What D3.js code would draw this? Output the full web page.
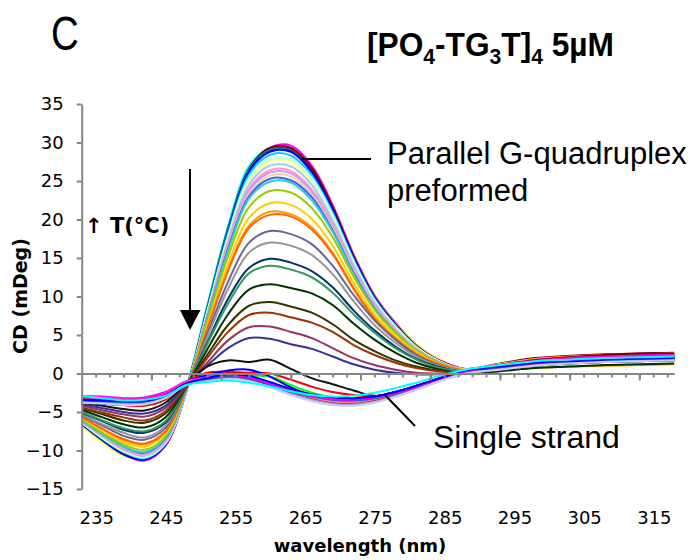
<!DOCTYPE html>
<html><head><meta charset="utf-8">
<script src="https://cdn.jsdelivr.net/npm/d3@7"></script>
<style>body{margin:0;background:#fff} svg{display:block}</style>
</head><body>
<svg id="chart" width="699" height="560"></svg>
<script>
// ---------- DATA ----------
const wavelength = [235,238,241,244,247,250,253,256,259,262,265,268,271,274,277,280,283,286,290,295,300,305,310,315,320];
const yTickValues = [-15,-10,-5,0,5,10,15,20,25,30,35];
const xTickLabels = [235,245,255,265,275,285,295,305,315];
const xMinorTicks = d3.range(237, 320, 2);

// quadruplex spectra (low T -> high T)
const q01 = [-6.3,-8.4,-10.2,-11.0,-9.2,-2.2,8.4,18.8,26.6,29.3,29.1,26.2,21.3,15.1,9.8,6.2,3.5,1.7,0.4,0.8,1.4,1.7,1.9,2.1,2.2];
const q02 = [-6.6,-8.7,-10.5,-11.3,-9.4,-2.4,8.1,18.4,26.4,29.3,29.6,27.0,21.9,15.5,10.2,6.6,3.7,1.9,0.6,1.2,1.9,2.2,2.3,2.5,2.6];
const q03 = [-6.8,-8.9,-10.7,-11.1,-9.1,-2.2,8.0,18.2,26.2,28.9,29.0,26.6,21.7,15.4,10.1,6.5,3.8,1.9,0.5,1.1,1.8,2.0,2.4,2.5,2.5];
const q04 = [-6.2,-8.3,-10.1,-10.9,-9.0,-1.9,8.8,19.1,26.9,29.3,29.0,26.3,21.2,15.0,9.9,6.3,3.5,1.7,0.4,0.9,1.5,1.8,2.0,2.2,2.3];
const q05 = [-6.5,-8.6,-10.4,-11.2,-9.3,-2.3,8.2,18.5,26.3,29.0,29.0,26.4,21.5,15.2,9.9,6.4,3.6,1.8,0.5,1.0,1.6,1.8,2.1,2.2,2.3];
const q06 = [-6.4,-8.5,-10.3,-11.1,-9.2,-2.2,8.3,18.7,26.6,29.3,29.3,26.7,21.7,15.3,10.0,6.4,3.6,1.8,0.6,1.3,2.0,2.3,2.5,2.6,2.7];
const q07 = [-6.3,-8.4,-10.3,-11.0,-9.1,-2.0,8.6,18.9,26.5,29.0,28.9,26.1,21.1,14.9,9.7,6.2,3.4,1.7,0.4,0.9,1.5,1.8,2.0,2.1,2.2];
const q08 = [-6.6,-8.7,-10.5,-11.2,-9.2,-2.3,8.1,18.3,26.2,28.8,28.8,26.2,21.3,15.1,9.9,6.3,3.5,1.7,0.3,0.7,1.2,1.5,1.7,1.9,2.0];
const q09 = [-6.4,-8.5,-10.2,-11.0,-9.1,-2.3,8.1,18.1,25.8,28.4,28.3,25.7,20.9,14.8,9.7,6.2,3.5,1.7,0.5,1.0,1.6,1.9,2.1,2.3,2.4];
const q10 = [-6.4,-8.4,-10.1,-10.9,-9.1,-2.3,7.9,17.8,25.4,28.0,27.9,25.4,20.6,14.6,9.5,6.1,3.4,1.7,0.4,0.9,1.4,1.7,1.9,2.0,2.1];
const q11 = [-6.4,-8.4,-10.1,-10.8,-9.0,-2.3,7.9,17.7,25.2,27.7,27.7,25.1,20.4,14.4,9.4,6.0,3.4,1.7,0.5,1.1,1.7,2.0,2.2,2.4,2.5];
const q12 = [-6.3,-8.3,-10.0,-10.8,-8.9,-2.2,7.8,17.5,24.9,27.4,27.3,24.8,20.2,14.3,9.3,5.9,3.3,1.7,0.3,0.8,1.3,1.6,1.8,1.9,2.0];
const q13 = [-6.3,-8.2,-9.9,-10.7,-8.9,-2.2,7.6,17.2,24.5,27.0,26.9,24.5,19.9,14.1,9.2,5.8,3.3,1.6,0.4,1.0,1.5,1.8,2.1,2.2,2.3];
const q14 = [-6.2,-8.1,-9.8,-10.5,-8.7,-2.2,7.5,16.9,24.0,26.4,26.3,23.9,19.5,13.7,8.9,5.7,3.2,1.6,0.6,1.2,1.8,2.1,2.3,2.5,2.6];
const q15 = [-6.2,-8.1,-9.7,-10.4,-8.7,-2.2,7.4,16.6,23.7,26.1,26.0,23.6,19.2,13.6,8.8,5.6,3.1,1.6,0.4,0.9,1.4,1.6,1.8,2.0,2.1];
const q16 = [-6.1,-8.0,-9.6,-10.3,-8.6,-2.2,7.2,16.4,23.3,25.7,25.6,23.2,18.9,13.3,8.6,5.5,3.1,1.5,0.5,1.1,1.6,1.9,2.1,2.2,2.3];
const q17 = [-6.1,-7.9,-9.5,-10.3,-8.5,-2.2,7.1,16.2,23.0,25.3,25.1,22.9,18.6,13.1,8.5,5.4,3.0,1.5,0.3,0.7,1.1,1.4,1.6,1.7,1.8];
const q18 = [-6.1,-7.9,-9.5,-10.2,-8.4,-2.2,7.0,15.9,22.7,24.9,24.8,22.5,18.4,12.9,8.4,5.3,3.0,1.5,0.4,0.9,1.4,1.7,1.9,2.1,2.2];
const q19 = [-5.9,-7.7,-9.2,-9.9,-8.2,-2.1,6.7,15.2,21.6,23.7,23.5,21.5,17.7,12.6,8.3,5.3,3.0,1.5,0.3,0.8,1.3,1.5,1.7,1.8,1.9];
const q20 = [-5.8,-7.4,-8.9,-9.5,-7.8,-2.1,6.2,14.2,20.2,22.1,21.9,20.1,16.6,11.8,7.7,4.9,2.8,1.4,0.5,1.2,1.9,2.2,2.4,2.5,2.6];
const q21 = [-5.7,-7.2,-8.6,-9.2,-7.6,-2.0,5.9,13.5,19.2,21.0,20.7,19.0,15.7,11.2,7.3,4.6,2.6,1.3,0.1,0.4,0.7,0.9,1.0,1.1,1.2];
const q22 = [-5.6,-7.2,-8.5,-9.1,-7.5,-2.0,5.7,13.3,18.9,20.6,20.4,18.7,15.5,11.0,7.1,4.5,2.5,1.3,0.4,0.9,1.5,1.7,1.9,2.1,2.2];
const q23 = [-5.4,-6.8,-8.1,-8.6,-7.1,-2.0,5.1,11.9,17.0,18.5,18.1,16.8,14.0,10.2,6.9,4.4,2.4,1.1,0.3,0.8,1.3,1.6,1.8,2.0,2.1];
const q24 = [-5.3,-6.6,-7.7,-8.3,-6.8,-1.9,4.7,11.0,15.7,17.0,16.6,15.4,12.9,9.4,6.3,4.0,2.2,1.0,0.4,1.0,1.5,1.8,2.0,2.1,2.2];
const q25 = [-5.1,-6.2,-7.3,-7.7,-6.4,-1.8,4.0,9.7,13.7,14.9,14.4,13.3,11.2,8.2,5.6,3.5,1.9,0.9,0.2,0.6,1.1,1.4,1.6,1.7,1.8];
const q26 = [-5.0,-6.1,-7.1,-7.5,-6.2,-1.8,3.8,9.1,13.0,14.0,13.5,12.5,10.5,7.7,5.3,3.3,1.8,0.8,0.3,0.9,1.4,1.7,1.9,2.0,2.1];
const q27 = [-4.7,-5.7,-6.6,-7.0,-5.7,-1.7,3.1,7.7,10.9,11.6,11.1,10.4,8.9,6.5,4.4,2.7,1.4,0.6,0.0,0.3,0.7,0.9,1.1,1.2,1.3];
const q28 = [-4.5,-5.3,-6.1,-6.4,-5.2,-1.7,2.4,6.3,8.8,9.3,8.7,7.9,6.4,4.4,2.9,1.7,0.9,0.4,0.1,0.7,1.2,1.5,1.7,1.8,1.9];
const q29 = [-4.4,-5.1,-5.7,-6.1,-4.9,-1.6,2.0,5.4,7.6,7.9,7.3,6.6,5.4,3.7,2.4,1.4,0.7,0.3,0.1,0.8,1.4,1.7,1.9,2.1,2.2];
const q30 = [-4.2,-4.8,-5.3,-5.6,-4.5,-1.6,1.4,4.3,6.0,6.1,5.4,4.6,3.3,2.0,1.1,0.5,0.1,0.0,0.0,0.6,1.1,1.4,1.6,1.8,1.9];
const q31 = [-4.0,-4.5,-5.0,-5.2,-4.2,-1.5,1.0,3.3,4.6,4.5,3.8,3.2,2.2,1.2,0.5,0.1,-0.1,-0.1,0.1,0.7,1.2,1.5,1.7,1.9,2.0];
const q32 = [-3.8,-4.2,-4.6,-4.8,-3.8,-1.3,0.9,1.7,1.5,1.8,0.6,-0.6,-1.4,-2.2,-2.9,-2.6,-1.9,-1.0,0.1,0.6,1.0,1.3,1.5,1.6,1.7];
// single-strand spectra (high T)
const s01 = [-3.3,-3.7,-4.1,-4.2,-3.4,-1.1,0.1,0.2,0.1,0.0,-0.8,-1.7,-2.4,-2.8,-3.0,-2.7,-2.0,-1.0,0.2,0.9,1.5,1.8,2.0,2.1,2.2];
const s02 = [-3.5,-3.8,-4.0,-4.0,-3.2,-1.2,-0.4,-0.2,-0.3,-0.4,-1.5,-2.5,-3.1,-3.4,-3.3,-2.7,-1.9,-0.9,0.1,0.7,1.2,1.5,1.7,1.8,1.9];
const s03 = [-3.6,-3.9,-4.1,-3.9,-3.0,-1.1,-0.2,0.4,0.5,-0.4,-1.8,-2.8,-3.3,-3.5,-3.3,-2.7,-1.8,-0.8,0.3,1.0,1.6,1.9,2.1,2.2,2.3];
const s04 = [-3.2,-3.3,-3.5,-3.4,-2.7,-1.2,-0.6,-0.3,-0.6,-1.5,-2.6,-3.4,-3.9,-4.1,-3.7,-2.9,-2.0,-1.0,0.2,0.9,1.6,2.0,2.2,2.4,2.5];
const s05 = [-2.9,-3.0,-3.2,-3.1,-2.4,-1.0,-0.5,-0.1,-0.4,-1.2,-2.1,-2.9,-3.4,-3.6,-3.4,-2.8,-1.9,-0.9,0.3,1.1,1.8,2.1,2.3,2.4,2.5];
const s06 = [-3.5,-3.6,-3.7,-3.6,-2.9,-1.4,-0.9,-0.5,-0.8,-1.6,-2.4,-3.1,-3.3,-3.4,-3.0,-2.4,-1.6,-0.7,0.4,1.1,1.7,2.1,2.4,2.6,2.6];
const s07 = [-3.7,-3.8,-3.9,-3.7,-2.9,-1.4,-0.9,-0.6,-0.9,-1.5,-2.2,-2.8,-3.2,-3.3,-3.1,-2.5,-1.7,-0.8,0.2,0.6,1.0,1.3,1.5,1.6,1.7];
const s08 = [-3.3,-3.4,-3.6,-3.5,-2.8,-1.3,-0.7,-0.3,-0.5,-1.3,-2.2,-2.9,-3.3,-3.5,-3.2,-2.6,-1.7,-0.8,0.3,0.9,1.4,1.7,1.9,2.0,2.1];
const s09 = [-3.6,-3.7,-3.8,-3.6,-2.9,-1.4,-0.9,-0.6,-0.9,-1.6,-2.5,-3.2,-3.6,-3.7,-3.3,-2.7,-1.9,-1.0,0.1,0.7,1.2,1.5,1.7,1.8,1.9];
const s10 = [-3.2,-3.3,-3.5,-3.4,-2.7,-1.2,-0.7,-0.3,-0.6,-1.4,-2.3,-3.0,-3.4,-3.5,-3.2,-2.6,-1.8,-0.9,0.2,0.8,1.4,1.7,2.0,2.1,2.2];
const s11 = [-3.4,-3.5,-3.6,-3.5,-2.8,-1.3,-0.8,-0.4,-0.7,-1.4,-2.2,-2.9,-3.3,-3.4,-3.1,-2.5,-1.7,-0.8,0.3,0.8,1.3,1.6,1.8,1.9,2.0];
const s12 = [-3.5,-3.6,-3.8,-3.7,-3.0,-1.4,-0.8,-0.5,-0.8,-1.6,-2.6,-3.4,-3.9,-4.0,-3.6,-2.9,-2.0,-1.0,0.1,0.7,1.2,1.5,1.7,1.8,1.9];
const s13 = [-3.3,-3.5,-3.7,-3.6,-2.9,-1.3,-0.8,-0.4,-0.7,-1.5,-2.4,-3.1,-3.6,-3.7,-3.4,-2.7,-1.9,-0.9,0.2,0.8,1.3,1.6,1.8,1.9,2.0];
const s14 = [-3.6,-3.8,-3.9,-3.8,-3.0,-1.4,-0.9,-0.5,-0.8,-1.7,-2.7,-3.5,-4.0,-4.1,-3.7,-3.0,-2.1,-1.1,0.0,0.6,1.1,1.4,1.6,1.7,1.8];
const s15 = [-3.4,-3.5,-3.6,-3.5,-2.8,-1.3,-0.8,-0.4,-0.7,-1.5,-2.4,-3.2,-3.7,-3.8,-3.4,-2.7,-1.8,-0.9,0.2,0.8,1.3,1.7,1.9,2.0,2.1];
const s16 = [-3.2,-3.3,-3.4,-3.3,-2.6,-1.2,-0.6,-0.2,-0.5,-1.2,-2.1,-2.8,-3.2,-3.3,-3.0,-2.4,-1.6,-0.7,0.4,1.0,1.6,1.9,2.1,2.2,2.3];
const s17 = [-3.1,-3.2,-3.4,-3.3,-2.6,-1.1,-0.6,-0.2,-0.5,-1.3,-2.3,-3.1,-3.6,-3.7,-3.3,-2.6,-1.7,-0.8,0.3,1.0,1.5,1.8,2.1,2.2,2.3];
const s18 = [-3.5,-3.6,-3.7,-3.6,-2.9,-1.3,-0.7,-0.3,-0.6,-1.4,-2.3,-3.0,-3.4,-3.5,-3.2,-2.6,-1.7,-0.8,0.3,0.9,1.4,1.7,1.9,2.0,2.1];
const s19 = [-3.8,-3.9,-4.1,-4.0,-3.2,-1.5,-1.0,-0.7,-1.0,-1.8,-2.8,-3.6,-4.1,-4.2,-3.8,-3.0,-2.1,-1.1,0.0,0.5,1.0,1.3,1.5,1.6,1.7];
const s20 = [-3.0,-3.2,-3.4,-3.3,-2.6,-1.2,-0.6,-0.2,-0.5,-1.3,-2.2,-2.9,-3.3,-3.4,-3.1,-2.5,-1.7,-0.8,0.3,1.0,1.6,2.0,2.2,2.3,2.4];
const s21 = [-3.4,-3.5,-3.6,-3.6,-2.9,-1.3,-0.6,-0.1,-0.3,-1.1,-2.0,-2.7,-3.1,-3.2,-3.0,-2.4,-1.6,-0.7,0.4,0.9,1.4,1.6,1.8,1.9,2.0];
const s22 = [-2.9,-3.2,-3.5,-3.4,-2.9,-1.5,-1.1,-0.9,-1.2,-1.7,-2.3,-2.8,-3.0,-2.9,-2.5,-1.9,-1.2,-0.4,0.5,1.1,1.6,1.8,2.0,2.1,2.2];

const cdSeries = [q01,q02,q03,q04,q05,q06,q07,q08,q09,q10,q11,q12,q13,q14,q15,q16,
  q17,q18,q19,q20,q21,q22,q23,q24,q25,q26,q27,q28,q29,q30,q31,q32,
  s01,s02,s03,s04,s05,s06,s07,s08,s09,s10,s11,s12,s13,s14,s15,s16,s17,s18,s19,s20,s21,s22];
const seriesColors = ["#000080","#FF00FF","#FFFF00","#00FFFF","#800080","#800000","#008080","#0000FF",
  "#00CCFF","#CCFFFF","#CCFFCC","#FFFF99","#99CCFF","#FF99CC","#CC99FF","#FFCC99",
  "#3366FF","#33CCCC","#99CC00","#FFCC00","#FF9900","#FF6600","#666699","#969696",
  "#003366","#339966","#003300","#333300","#993300","#993366","#333399","#111111",
  "#FF0000","#00FF00","#0000FF","#FFFF00","#FF00FF","#800000","#008000","#000080",
  "#808000","#800080","#008080","#C0C0C0","#808080","#9999FF","#993366","#660066",
  "#FF8080","#0066CC","#CCCCFF","#FF00FF","#0000FF","#00FFFF"];

// ---------- CHART ----------
const svg = d3.select('#chart');
const x = d3.scaleLinear().domain([235, 320]).range([81.7, 674.2]);
const y = d3.scaleLinear().domain([-15, 35]).range([489, 104]);
const axisColor = '#868686';

// curves
const line = d3.line()
  .x((d, i) => x(wavelength[i]))
  .y(d => y(d))
  .curve(d3.curveCatmullRom.alpha(0.5));
svg.append('g').selectAll('path').data(cdSeries).join('path')
  .attr('d', d => line(d))
  .attr('fill', 'none')
  .attr('stroke', (d, i) => seriesColors[i])
  .attr('stroke-width', 2)
  .attr('stroke-linejoin', 'round');

// y axis
const yAxis = svg.append('g').attr('transform', `translate(${x(235)},0)`)
  .call(d3.axisLeft(y).tickValues(yTickValues).tickSize(5).tickSizeOuter(0).tickPadding(13));
yAxis.select('.domain').attr('stroke', axisColor).attr('stroke-width', 2);
yAxis.selectAll('.tick line').attr('stroke', axisColor).attr('stroke-width', 2);
yAxis.selectAll('.tick text').attr('font-family', 'DejaVu Sans, Verdana, sans-serif')
  .attr('font-size', 18).attr('fill', '#000');

// x axis at zero (minor and major ticks)
const xAxisMinor = svg.append('g').attr('transform', `translate(0,${y(0)})`)
  .call(d3.axisBottom(x).tickValues(xMinorTicks).tickSize(4).tickSizeOuter(0).tickFormat(''));
xAxisMinor.select('.domain').attr('stroke', axisColor).attr('stroke-width', 2);
xAxisMinor.selectAll('.tick line').attr('stroke', axisColor).attr('stroke-width', 2);
const xAxisMajor = svg.append('g').attr('transform', `translate(0,${y(0)})`)
  .call(d3.axisBottom(x).tickValues(xTickLabels.slice(1)).tickSize(7).tickFormat(''));
xAxisMajor.select('.domain').remove();
xAxisMajor.selectAll('.tick line').attr('stroke', axisColor).attr('stroke-width', 2);

// x tick labels (low position, category-style offset)
const xLab = svg.append('g').attr('transform', 'translate(14.5,508)')
  .call(d3.axisBottom(x).tickValues(xTickLabels).tickSize(0).tickPadding(3));
xLab.select('.domain').remove();
xLab.selectAll('.tick text').attr('font-family', 'DejaVu Sans, Verdana, sans-serif')
  .attr('font-size', 18).attr('fill', '#000');

// axis titles
svg.append('text').attr('x', 360).attr('y', 552).attr('text-anchor', 'middle')
  .attr('font-family', 'DejaVu Sans, Verdana, sans-serif').attr('font-weight', 'bold')
  .attr('font-size', 18).text('wavelength (nm)');
svg.append('text').attr('transform', 'translate(27,296) rotate(-90)').attr('text-anchor', 'middle')
  .attr('font-family', 'DejaVu Sans, Verdana, sans-serif').attr('font-weight', 'bold')
  .attr('font-size', 19).text('CD (mDeg)');

// panel letter
svg.append('text').attr('transform', 'translate(51,50) scale(0.8,1)')
  .attr('font-family', 'Liberation Sans, Arial, sans-serif').attr('font-size', 48).text('C');

// title with subscripts
const title = svg.append('text').attr('transform', 'translate(367,56) scale(0.96,1)')
  .attr('font-family', 'Liberation Sans, Arial, sans-serif').attr('font-weight', 'bold')
  .attr('font-size', 33);
const titleParts = [['[PO',0],['4',1],['-TG',0],['3',1],['T]',0],['4',1],[' 5µM',0]];
let prevSub = 0;
titleParts.forEach(([t, sub]) => {
  const ts = title.append('tspan').text(t);
  if (sub !== prevSub) ts.attr('dy', sub ? 8 : -8);
  if (sub) ts.attr('font-size', 22);
  prevSub = sub;
});

// temperature annotation and arrow
svg.append('text').attr('x', 85).attr('y', 233)
  .attr('font-family', 'DejaVu Sans, Verdana, sans-serif').attr('font-weight', 'bold')
  .attr('font-size', 21).text('↑ T(°C)');
svg.append('line').attr('x1', 190).attr('x2', 190).attr('y1', 169).attr('y2', 312)
  .attr('stroke', '#000').attr('stroke-width', 2);
svg.append('path').attr('d', 'M180,310 L200.5,310 L190,330 Z').attr('fill', '#000');

// callouts
svg.append('line').attr('x1', 302).attr('y1', 159).attr('x2', 371).attr('y2', 159)
  .attr('stroke', '#000').attr('stroke-width', 2);
svg.append('text').attr('x', 387).attr('y', 164)
  .attr('font-family', 'Liberation Sans, Arial, sans-serif').attr('font-size', 31).text('Parallel G-quadruplex');
svg.append('text').attr('x', 387).attr('y', 201)
  .attr('font-family', 'Liberation Sans, Arial, sans-serif').attr('font-size', 31).text('preformed');
svg.append('line').attr('x1', 385).attr('y1', 395).attr('x2', 415).attr('y2', 426)
  .attr('stroke', '#000').attr('stroke-width', 2);
svg.append('text').attr('x', 433).attr('y', 448)
  .attr('font-family', 'Liberation Sans, Arial, sans-serif').attr('font-size', 32).text('Single strand');
</script>
</body></html>
